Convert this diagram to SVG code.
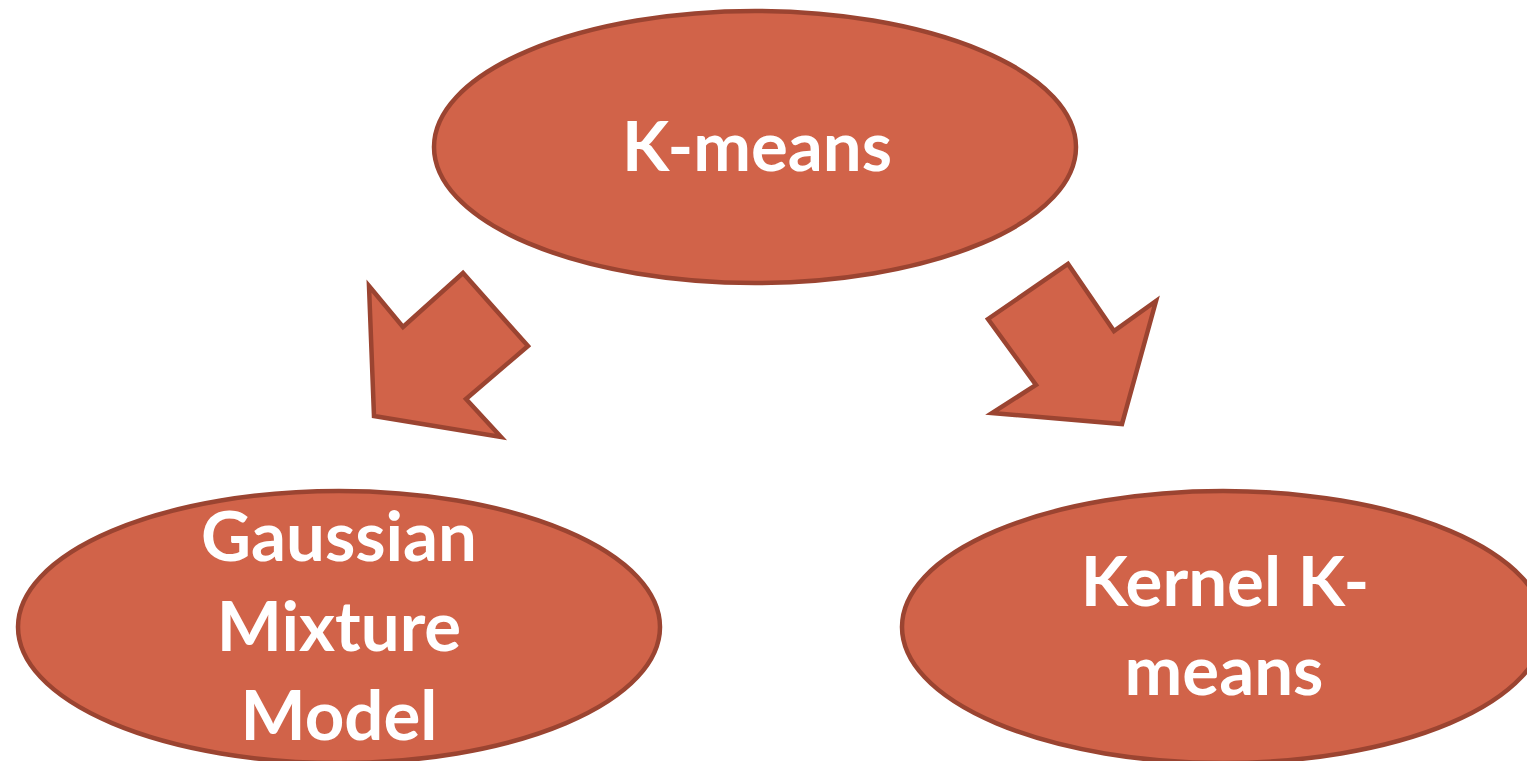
<svg xmlns="http://www.w3.org/2000/svg" width="1527" height="761" viewBox="0 0 1527 761">
<style>
.shape{fill:#D16349;stroke:#9B4431;stroke-width:4.5;stroke-linejoin:miter}
.lbl{fill:#FFFFFF;font-family:Lato,"Liberation Sans",sans-serif;font-weight:bold;font-size:69px;text-anchor:middle}
</style>
<rect width="1527" height="761" fill="#FFFFFF"/>
<g id="connectors">
<polygon id="arrow-left" class="shape" points="369,286 403,327 463,273 528,346 466,399 501,437 374,416"/>
<polygon id="arrow-right" class="shape" points="988,319 1068,264 1114,331 1156,301 1122,424 992,413 1036,385"/>
</g>
<g id="node-kmeans">
<ellipse class="shape" cx="755" cy="147" rx="321" ry="136"/>
<text class="lbl" x="757" y="171">K-means</text>
</g>
<g id="node-gmm">
<ellipse class="shape" cx="339" cy="627" rx="321" ry="136"/>
<text class="lbl" x="339" y="561">Gaussian</text>
<text class="lbl" x="339" y="651">Mixture</text>
<text class="lbl" x="339" y="740">Model</text>
</g>
<g id="node-kernel">
<ellipse class="shape" cx="1223" cy="627" rx="321" ry="136"/>
<text class="lbl" x="1225" y="606">Kernel K-</text>
<text class="lbl" x="1224" y="695">means</text>
</g>
</svg>
